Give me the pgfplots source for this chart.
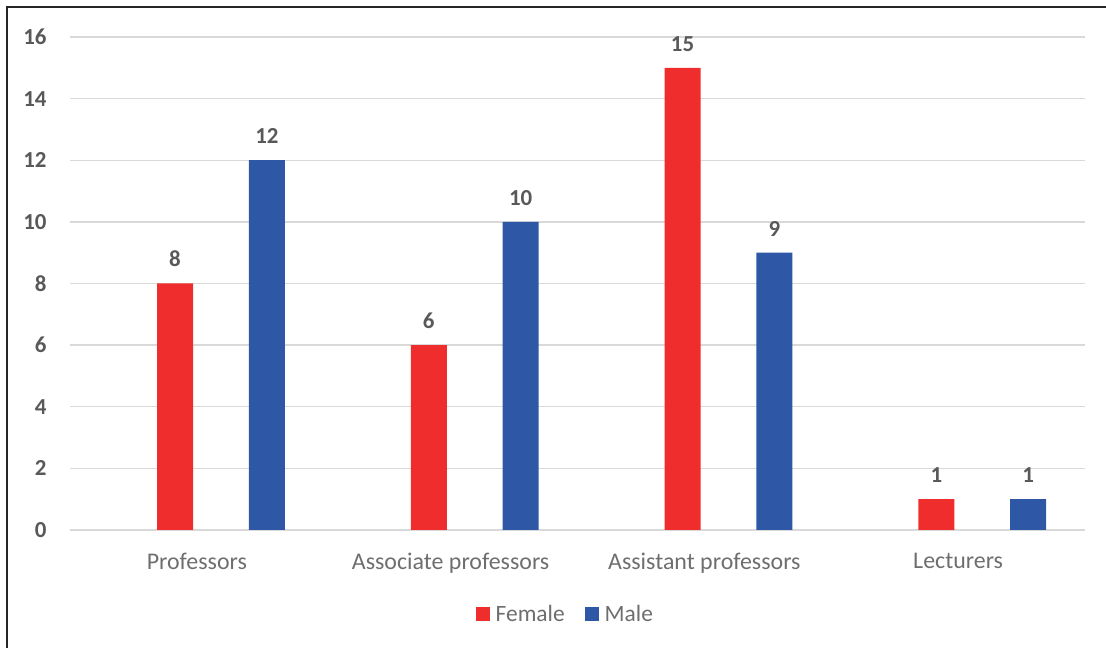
\documentclass[border=0pt]{standalone}
\usepackage{pgfplots}
\pgfplotsset{compat=1.18}
\usepackage{fontspec}
\setmainfont{Carlito}
\definecolor{femred}{RGB}{239,45,45}
\definecolor{maleblue}{RGB}{46,88,166}
\definecolor{txtgray}{RGB}{89,89,89}
\definecolor{catgray}{RGB}{110,110,110}
\definecolor{gridgray}{RGB}{217,217,217}
\begin{document}
\begin{tikzpicture}
\path[use as bounding box] (0,0) rectangle (1106bp,648bp);
\draw[line width=1.6bp, black!85] (7bp,0) -- (7bp,641bp) -- (1106bp,641bp);
\begin{axis}[
    at={(70bp,118bp)}, anchor=south west,
    scale only axis,
    width=1015bp, height=493bp,
    ybar,
    xmin=-0.5, xmax=3.5,
    ymin=0, ymax=16,
    xtick={0,1,2,3},
    xticklabels={Professors, Associate professors, Assistant professors, Lecturers},
    ytick={0,2,...,16},
    axis x line*=bottom,
    axis y line*=left,
    x axis line style={draw=gridgray, line width=1.3bp, -},
    y axis line style={draw=none},
    ymajorgrids,
    grid style={draw=gridgray, line width=1.3bp},
    major tick length=0pt,
    /pgf/number format/assume math mode=true,
    yticklabel style={text=txtgray, font=\fontsize{23}{25}\selectfont\bfseries, anchor=east, xshift=-20bp},
    xticklabel style={text=catgray, font=\fontsize{24}{27}\selectfont, yshift=-20bp},
    nodes near coords,
    every node near coord/.append style={text=txtgray, font=\fontsize{23}{25}\selectfont\bfseries, anchor=south, yshift=13bp},
    legend columns=2,
    legend style={draw=none, fill=none, at={(axis description cs:0.488,-0.17)}, anchor=center,
        font=\fontsize{23.5}{26}\selectfont, text=catgray,
        /tikz/every odd column/.append style={column sep=4bp},
        /tikz/every even column/.append style={column sep=18bp}},
    legend image code/.code={\fill[#1] (0bp,-7bp) rectangle (14bp,7bp);},
    ]
\addplot[fill=femred, draw=none, bar width=0.142, bar shift=0pt] coordinates {
    (-0.086,8) (0.914,6) (1.914,15) (2.914,1)
};
\addplot[fill=maleblue, draw=none, bar width=0.142, bar shift=0pt] coordinates {
    (0.276,12) (1.276,10) (2.276,9) (3.276,1)
};
\legend{Female, Male}
\end{axis}
\end{tikzpicture}
\end{document}
